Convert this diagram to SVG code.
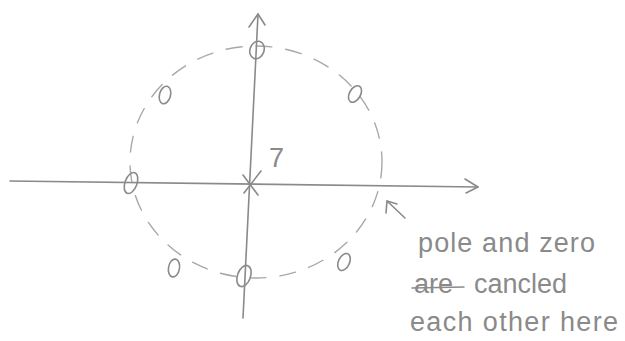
<svg xmlns="http://www.w3.org/2000/svg" width="625" height="341" viewBox="0 0 625 341">
<defs>
<style>
.ax{stroke:#8a8a8a;stroke-width:1.6;fill:none;stroke-linecap:round;stroke-linejoin:round}
.dash{stroke:#a8a8a8;stroke-width:1.4;fill:none;stroke-dasharray:16 14;stroke-linecap:round}
.z{stroke:#8a8a8a;stroke-width:1.6;fill:none}
.t{font-family:"Liberation Sans","DejaVu Sans",sans-serif;fill:#8a8a8a;font-size:27px}
</style>
</defs>
<rect width="625" height="341" fill="#ffffff"/>
<g id="unit-circle">
<ellipse class="dash" cx="256" cy="162" rx="126" ry="116"/>
</g>
<g id="connectors">
<path class="ax" d="M10 181 L478 187"/>
<path class="ax" d="M465 179 L478 187 L466 193"/>
<path class="ax" d="M258 14 L243 318"/>
<path class="ax" d="M249 27 L258 14 L265 25"/>
<path class="ax" d="M405 218 L387 201"/>
<path class="ax" d="M386 213 L387 201 L397 204"/>
</g>
<g id="pole">
<path class="ax" d="M244 193 L261 171 M243 175 L258 195"/>
<text class="t" x="269" y="167" font-size="21">7</text>
</g>
<g id="zero-top"><ellipse class="z" cx="257" cy="50" rx="7" ry="9" transform="rotate(20 257 50)"/></g>
<g id="zero-upper-left"><ellipse class="z" cx="165" cy="95" rx="5.5" ry="9" transform="rotate(15 165 95)"/></g>
<g id="zero-upper-right"><ellipse class="z" cx="355" cy="94" rx="5.5" ry="9" transform="rotate(30 355 94)"/></g>
<g id="zero-left"><ellipse class="z" cx="131" cy="183" rx="6" ry="11" transform="rotate(20 131 183)"/></g>
<g id="zero-lower-left"><ellipse class="z" cx="174" cy="268" rx="5.5" ry="9" transform="rotate(10 174 268)"/></g>
<g id="zero-bottom"><ellipse class="z" cx="244" cy="276" rx="6.5" ry="11" transform="rotate(20 244 276)"/></g>
<g id="zero-lower-right"><ellipse class="z" cx="344" cy="262" rx="5.5" ry="9" transform="rotate(25 344 262)"/></g>
<g id="note">
<text class="t" x="418" y="252" textLength="177" lengthAdjust="spacing">pole and zero</text>
<text class="t" x="414" y="293" font-size="20">are</text>
<path class="ax" d="M412 288 L464 287"/>
<text class="t" x="474" y="293" font-size="25">cancled</text>
<text class="t" x="410" y="331" textLength="208" lengthAdjust="spacing">each other here</text>
</g>
</svg>
